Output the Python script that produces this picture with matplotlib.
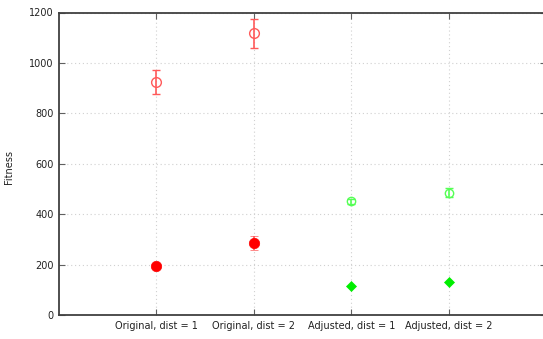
import matplotlib
matplotlib.use("Agg")
import matplotlib.pyplot as plt

categories = ["Original, dist = 1", "Original, dist = 2", "Adjusted, dist = 1", "Adjusted, dist = 2"]
positions = [1, 2, 3, 4]

# Original method: open = total fitness, filled = best-case fitness
orig_open_mean = [925, 1117]
orig_open_err = [48, 57]
orig_fill_mean = [195, 284]
orig_fill_err = [8, 28]

# Adjusted method
adj_open_mean = [452, 485]
adj_open_err = [10, 17]
adj_fill_mean = [116, 130]
adj_fill_err = [4, 4]

W, H = 543, 339
fig = plt.figure(figsize=(W / 100, H / 100), dpi=100)
left, bottom, top = 59, 315, 12.5
right = 546
ax = fig.add_axes([left / W, 1 - bottom / H, (right - left) / W, (bottom - top) / H])

red_light = "#ff5a5a"
red = "#ff0000"
green_light = "#55ff55"
green = "#00ee00"

ax.errorbar(positions[:2], orig_open_mean, yerr=orig_open_err, fmt="o", mfc="none",
            mec=red_light, ecolor=red_light, ms=7, mew=1, elinewidth=1.2, capsize=3.2, capthick=1.2, zorder=3)
ax.errorbar(positions[:2], orig_fill_mean, yerr=orig_fill_err, fmt="o", mfc=red,
            mec=red, ecolor=red_light, ms=7.5, mew=0.5, elinewidth=1.2, capsize=3.2, capthick=1.2, zorder=3)
ax.errorbar(positions[2:], adj_open_mean, yerr=adj_open_err, fmt="o", mfc="none",
            mec=green_light, ecolor=green_light, ms=6, mew=1, elinewidth=1.2, capsize=3, capthick=1.2, zorder=3)
ax.errorbar(positions[2:], adj_fill_mean, yerr=adj_fill_err, fmt="D", mfc=green,
            mec=green, ecolor=green_light, ms=5.5, mew=0.5, elinewidth=1.2, capsize=2, capthick=1, zorder=3)

ax.set_xlim(0, 5)
ax.set_ylim(0, 1200)
ax.set_xticks(positions)
ax.set_xticklabels(categories)
ax.set_yticks(range(0, 1201, 200))

ax.grid(True, color="#d0d0d0", linestyle=(0, (1, 2.5)), linewidth=0.8)
ax.set_axisbelow(True)

for side in ["left", "bottom", "top"]:
    ax.spines[side].set_color("#404040")
    ax.spines[side].set_linewidth(1.3)
ax.spines["right"].set_visible(False)

ax.tick_params(direction="in", length=4, width=0.8, color="#606060",
               top=True, right=True, labelsize=7, labelcolor="#222222", pad=4)

ax.set_ylabel("Fitness", fontsize=7, color="#222222")
ax.yaxis.set_label_coords((14 - left) / (right - left), 0.49)

fig.savefig("out.png", dpi=100)
